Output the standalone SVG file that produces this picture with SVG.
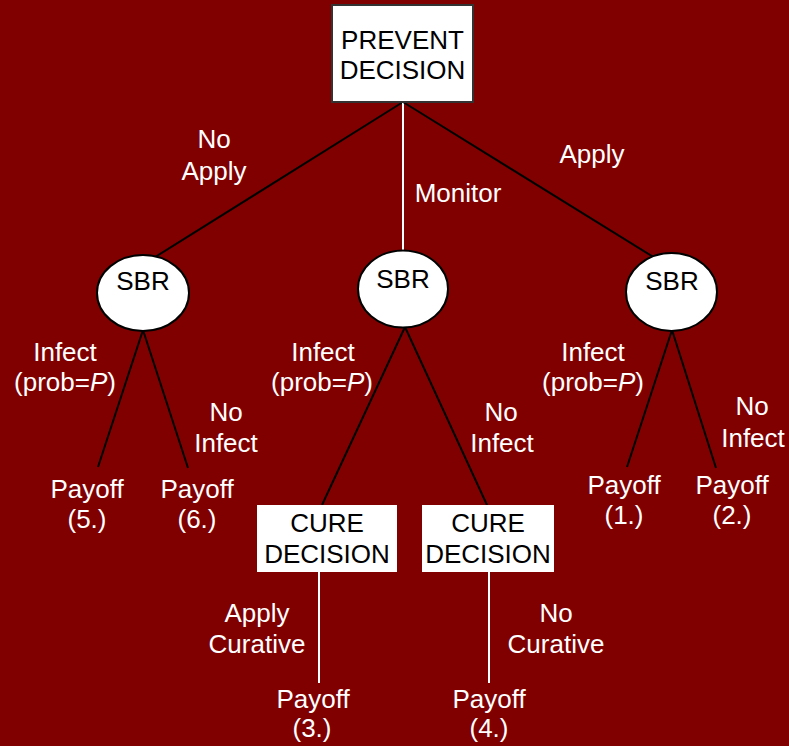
<svg xmlns="http://www.w3.org/2000/svg" width="789" height="746" viewBox="0 0 789 746">
<style>
text{font-family:"Liberation Sans",Arial,sans-serif;font-size:26px;text-anchor:middle}
.lbl{fill:#ffffff}
.nt{fill:#000000}
.dk{stroke:#000000;stroke-width:2;fill:none}
.wt{stroke:#ffffff;stroke-width:2;fill:none}
.ell{fill:#ffffff;stroke:#000000;stroke-width:2}
.box{fill:#ffffff}
</style>
<rect width="789" height="746" fill="#800000"/>
<g id="connectors">
<line class="dk" x1="403" y1="102" x2="152" y2="259"/>
<line class="wt" x1="403" y1="102" x2="403" y2="252"/>
<line class="dk" x1="403" y1="102" x2="655" y2="258"/>
<line class="dk" x1="143" y1="330" x2="98" y2="467"/>
<line class="dk" x1="143" y1="330" x2="188" y2="468"/>
<line class="dk" x1="405" y1="327" x2="322" y2="505"/>
<line class="dk" x1="405" y1="327" x2="487" y2="505"/>
<line class="dk" x1="672" y1="330" x2="627" y2="467"/>
<line class="dk" x1="672" y1="330" x2="716" y2="468"/>
<line class="wt" x1="319" y1="572" x2="319" y2="683"/>
<line class="wt" x1="489" y1="572" x2="489" y2="683"/>
</g>
<g id="labels">
<text class="lbl" x="214" y="148">No</text>
<text class="lbl" x="214" y="180">Apply</text>
<text class="lbl" x="458" y="202">Monitor</text>
<text class="lbl" x="592" y="163">Apply</text>
<text class="lbl" x="65" y="361">Infect</text>
<text class="lbl" x="65" y="391">(prob=<tspan font-style="italic">P</tspan>)</text>
<text class="lbl" x="226" y="421">No</text>
<text class="lbl" x="226" y="452">Infect</text>
<text class="lbl" x="323" y="361">Infect</text>
<text class="lbl" x="322" y="391">(prob=<tspan font-style="italic">P</tspan>)</text>
<text class="lbl" x="501" y="421">No</text>
<text class="lbl" x="502" y="452">Infect</text>
<text class="lbl" x="593" y="361">Infect</text>
<text class="lbl" x="593" y="391">(prob=<tspan font-style="italic">P</tspan>)</text>
<text class="lbl" x="752" y="415">No</text>
<text class="lbl" x="753" y="447">Infect</text>
<text class="lbl" x="257" y="622">Apply</text>
<text class="lbl" x="257" y="653">Curative</text>
<text class="lbl" x="556" y="622">No</text>
<text class="lbl" x="556" y="653">Curative</text>
</g>
<g id="prevent-decision">
<rect x="332" y="5" width="141" height="97" fill="#ffffff" stroke="#333333" stroke-width="2"/>
<text class="nt" x="402.5" y="49" font-size="25">PREVENT</text>
<text class="nt" x="402.5" y="79" font-size="25">DECISION</text>
</g>
<g id="sbr-left">
<ellipse class="ell" cx="143" cy="293" rx="46" ry="38"/>
<text class="nt" x="143" y="290">SBR</text>
</g>
<g id="sbr-middle">
<ellipse class="ell" cx="403" cy="289" rx="45" ry="38.5"/>
<text class="nt" x="403" y="288">SBR</text>
</g>
<g id="sbr-right">
<ellipse class="ell" cx="671.5" cy="292" rx="45.5" ry="39"/>
<text class="nt" x="672" y="290">SBR</text>
</g>
<g id="cure-left">
<rect class="box" x="257" y="505" width="140" height="67"/>
<text class="nt" x="327" y="532">CURE</text>
<text class="nt" x="327" y="563">DECISION</text>
</g>
<g id="cure-right">
<rect class="box" x="422" y="505" width="132" height="67"/>
<text class="nt" x="488" y="532">CURE</text>
<text class="nt" x="488" y="563">DECISION</text>
</g>
<g id="payoff-5">
<text class="lbl" x="87" y="498">Payoff</text>
<text class="lbl" x="87" y="528">(5.)</text>
</g>
<g id="payoff-6">
<text class="lbl" x="197" y="498">Payoff</text>
<text class="lbl" x="197" y="528">(6.)</text>
</g>
<g id="payoff-1">
<text class="lbl" x="624" y="494">Payoff</text>
<text class="lbl" x="624" y="524">(1.)</text>
</g>
<g id="payoff-2">
<text class="lbl" x="732" y="494">Payoff</text>
<text class="lbl" x="732" y="524">(2.)</text>
</g>
<g id="payoff-3">
<text class="lbl" x="313" y="708">Payoff</text>
<text class="lbl" x="312" y="737">(3.)</text>
</g>
<g id="payoff-4">
<text class="lbl" x="489" y="708">Payoff</text>
<text class="lbl" x="489" y="737">(4.)</text>
</g>
</svg>
